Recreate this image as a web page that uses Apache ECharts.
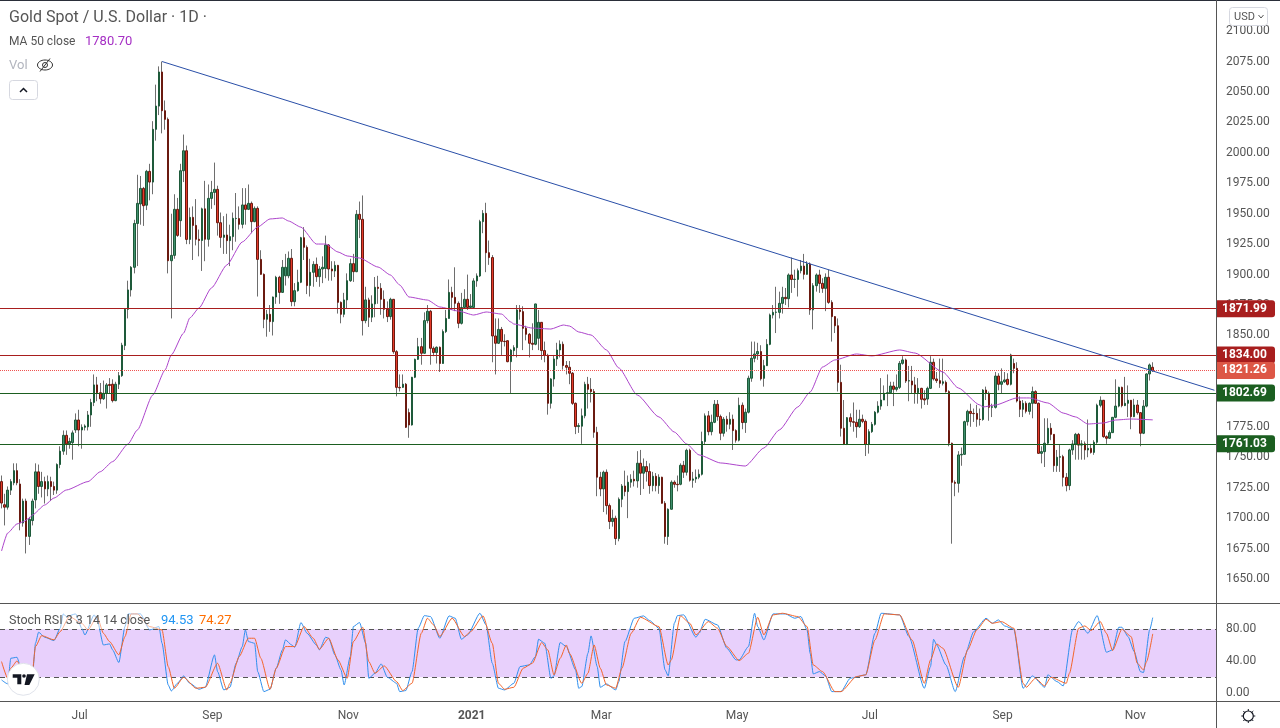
<!DOCTYPE html>
<html>
<head>
<meta charset="utf-8">
<title>Gold Spot / U.S. Dollar</title>
<script src="https://cdn.jsdelivr.net/npm/echarts@6/dist/echarts.min.js"></script>
<style>
  html, body { margin: 0; padding: 0; background: #fff; }
  #chart { width: 1280px; height: 728px; }
</style>
</head>
<body>
<div id="chart"></div>
<script>
// Daily candles, ten per line
const opens = [
  1730,1711,1709,1723,1729,1739,1728,1696,1714,1685,
  1698,1715,1738,1726,1730,1724,1730,1726,1723,1744,
  1755,1768,1761,1762,1772.4,1780.6,1772.4,1774.6,1775,1784.7,
  1795,1809.4,1803,1798,1802.5,1809.7,1810,1796.5,1810,1817,
  1841.7,1871.5,1887.4,1906,1942,1958,1970.8,1957,1984.8,1976,
  2019.3,2038.4,2066.4,2034.6,2027.5,1911.4,1915.8,1953.6,1944.3,1985.3,
  2001.7,1928.9,1947,1940.4,1929,1928,1954,1929,1962.6,1967.5,
  1970,1942.6,1930.6,1932.5,1927.9,1931.2,1946,1946,1941.3,1957.2,
  1953.6,1958.5,1943.5,1954.4,1912.5,1900.2,1863.3,1867.4,1861.4,1881.6,
  1897.8,1885.4,1899,1899,1913.4,1877.8,1886.8,1893.7,1930.3,1922.4,
  1891,1901.9,1908.4,1898.3,1904.6,1905,1924.3,1904.6,1903,1907.6,
  1877.2,1867.4,1879.2,1895,1909,1902.4,1949.5,1945.4,1862.2,1879.2,
  1865,1875.9,1889.6,1888.7,1879.7,1871.5,1865.5,1879.7,1836.7,1807.4,
  1807.4,1810,1786.7,1776.5,1815.7,1830.4,1840.8,1835.4,1862.2,1869.9,
  1839.5,1836,1840.3,1827,1853.2,1864,1885.4,1881.3,1876.4,1860,
  1873,1879.7,1873,1873,1894.8,1898.9,1943.5,1950.3,1918,1914,
  1849.6,1843.6,1855,1845.2,1845.7,1828.5,1837.6,1840,1871,1869.6,
  1855.9,1851,1843.6,1842.8,1847.7,1860.8,1837.6,1833.7,1794.3,1814.3,
  1830.7,1838.1,1842.8,1825.3,1823.9,1819,1794.3,1775.2,1775.5,1784,
  1809.9,1805.8,1803.9,1770.5,1733.6,1724,1737.7,1710.3,1697.2,1699.9,
  1683.2,1715.5,1726.4,1721.8,1729.5,1731.9,1730.6,1745.1,1736.9,1742.3,
  1738.2,1726.7,1734.4,1726.7,1733.6,1712.2,1684.9,1707.3,1729.5,1727.8,
  1727.8,1743.4,1737.7,1755.7,1731.1,1732.2,1733.6,1736,1762.9,1784,
  1771,1778.7,1793.5,1783.4,1769.7,1781.2,1777.1,1781.2,1771.9,1764,
  1792.7,1778.5,1787,1814.9,1831.3,1834.8,1836.8,1814.8,1825.2,1842.7,
  1866.8,1869,1869,1876.4,1881.3,1880.2,1899.7,1896,1896,1903.2,
  1907,1900.2,1908.7,1871,1890.9,1899.7,1892.8,1888.7,1897.8,1877.2,
  1865.5,1858,1811.5,1773.8,1760.6,1782.5,1779.2,1778.7,1775.1,1781.2,
  1779.5,1760.6,1771,1777,1787,1792,1797,1802.5,1803,1808.5,
  1805.8,1807.4,1827.1,1829.9,1812.6,1812.6,1809.4,1803,1806.6,1798,
  1797.8,1806.6,1828,1814.3,1812.9,1810.7,1811.5,1803.9,1761.5,1729.4,
  1728.6,1751.9,1752.4,1779.2,1787.7,1786,1786,1781.2,1781,1805.2,
  1802.5,1791,1791,1816.7,1809.9,1812,1814,1809.9,1827,1823,
  1796.2,1789.4,1794.3,1787.7,1794.3,1803.9,1794.3,1753.2,1754.6,1761.5,
  1773.8,1768.8,1743.1,1750,1750.5,1733.5,1726.7,1756,1760.9,1768.8,
  1760,1761,1756,1757.3,1754,1762.3,1792.7,1796.8,1766.9,1765.6,
  1770.2,1782.8,1792,1807.4,1792.4,1794.3,1796.8,1783.3,1792.9,1786.6,
  1769.7,1792,1818.4,1823.9
];
const closes = [
  1712.4,1709,1723,1730,1739,1729,1696,1714,1685,1699,
  1714,1738,1726,1730,1724,1730,1726,1723,1744,1755,
  1768,1761,1763,1770,1780.6,1772.4,1774.6,1775.7,1784.7,1795,
  1809.4,1803,1798,1802.5,1809.4,1809,1796.5,1810,1817,1842,
  1871.5,1887.4,1906,1942,1958.5,1970.8,1956.6,1984.8,1976,2019.3,
  2038.4,2066.4,2034.6,2027.5,1911.4,1915.8,1953.6,1932.2,1985.3,2001.7,
  1928.9,1947,1940.4,1929,1928,1954,1929,1962.6,1967.5,1970,
  1942.6,1930.6,1932.5,1927.9,1931.2,1946.2,1946.2,1941.3,1957.2,1953.6,
  1958.5,1943.5,1954.4,1912.5,1900.2,1863.3,1867.4,1861.4,1881.6,1897.8,
  1885.4,1906,1906,1913.4,1877.8,1886.8,1893.7,1930.3,1922.4,1891,
  1901.9,1908.4,1898.3,1904.6,1906,1924.3,1904.6,1903,1907.6,1877.2,
  1867.4,1879.2,1895,1909,1902.4,1949.5,1945.4,1862.2,1879.2,1865,
  1875.9,1889.6,1888.7,1879.7,1871.5,1865.5,1879.7,1836.7,1807.4,1807,
  1810,1774.6,1776.5,1815.7,1830.4,1840.8,1835.4,1862.2,1869.9,1839.5,
  1836,1840.3,1827,1853.2,1864,1885.4,1881.3,1876.4,1860,1873,
  1879.7,1873,1874.2,1894.8,1898.9,1943.5,1950.3,1918,1914,1849.6,
  1843.6,1855,1845.2,1845,1828.5,1838,1840,1871,1869.6,1855.9,
  1851,1843.6,1842.8,1875.9,1860.8,1837.6,1833.7,1794.3,1814.3,1830.7,
  1838.1,1842.8,1825.3,1823.9,1819,1794.3,1775.2,1776,1784,1809.9,
  1805.8,1803.9,1770.5,1733.6,1724,1737.7,1710.3,1697.2,1699.9,1683.2,
  1715.5,1726.4,1721.8,1729.5,1731.9,1730.6,1745.1,1736.9,1742.3,1738.2,
  1726.7,1734.4,1726.7,1733.6,1712.2,1684.9,1707.3,1729.5,1727.8,1727.5,
  1743.4,1737.7,1755.7,1731.1,1732.2,1733.6,1736,1762.9,1784,1771,
  1778.7,1793.5,1783.4,1769.7,1781.2,1777.1,1781.2,1771.9,1764,1792.7,
  1778.5,1787,1814.9,1831.3,1834.8,1836.8,1814.4,1825.2,1842.7,1866.8,
  1869,1869.2,1876.4,1881.3,1880.2,1899.7,1896,1896.2,1903.2,1907,
  1900.2,1908.7,1871,1890.9,1899.7,1892.8,1888.7,1897.8,1877.2,1865.5,
  1858,1811.5,1773.8,1760.6,1782.5,1779.2,1778.7,1775.1,1781.2,1779.5,
  1760.6,1771,1777,1787,1792,1797,1802.5,1803,1808.5,1805.8,
  1807.4,1827.1,1829.9,1812.6,1812.9,1809.4,1803,1806.6,1797.6,1797,
  1806.6,1828,1814.3,1812.9,1810.7,1812,1803.9,1761.5,1729.4,1728.6,
  1751.9,1752.4,1779.2,1787.7,1786,1785.8,1781.2,1781,1805.2,1802.5,
  1791,1791.5,1816.7,1809.9,1812,1813.5,1809.9,1834,1823,1796.2,
  1789.4,1794.3,1787.7,1794.3,1803.9,1794.3,1753.2,1754.6,1761.5,1773.8,
  1768.8,1743.1,1750,1750.5,1733.5,1726.7,1756,1760.9,1768.8,1760,
  1761,1756,1757.3,1754,1762.3,1792.7,1796.8,1766.9,1765.6,1770.2,
  1782.8,1792,1807.4,1792.4,1794.3,1796.8,1783.3,1792.9,1786.6,1769.7,
  1792,1818.4,1825.8,1821.3
];
const highs = [
  1735,1720,1726,1732,1745,1745,1732,1716,1716,1701,
  1716,1745,1744,1738,1734,1735,1734,1730,1745,1759,
  1772,1772,1766,1772,1786,1789,1777,1777,1788,1798,
  1818,1816,1811,1813,1811,1815,1814,1812,1820,1844,
  1872,1895,1907,1945,1982,1981,1972,1986,1991,2026,
  2056,2071,2075,2043,2029,1950,1966,1963,1991,2015,
  2006,1955,1956,1962,1937,1955,1977,1974,1977,1992,
  1973,1951,1948,1950,1941,1951,1967,1956,1971,1971,
  1974,1960,1956,1956,1920,1901,1871,1875,1882,1899,
  1899,1912,1917,1919,1921,1893,1904,1931,1939,1924,
  1913,1911,1914,1907,1915,1932,1925,1911,1911,1908,
  1878,1885,1901,1913,1917,1953,1960,1965,1890,1881,
  1883,1898,1899,1893,1887,1878,1881,1880,1838,1818,
  1818,1811,1790,1816,1831,1848,1848,1869,1875,1871,
  1841,1841,1841,1855,1871,1896,1890,1906,1878,1885,
  1888,1900,1884,1897,1901,1945,1953,1959,1928,1916,
  1864,1864,1857,1851,1846,1839,1842,1875,1875,1874,
  1858,1852,1860,1876,1871,1861,1845,1835,1815,1834,
  1844,1846,1845,1829,1829,1820,1795,1778,1790,1812,
  1816,1815,1806,1775,1738,1739,1740,1712,1707,1702,
  1717,1728,1739,1735,1736,1739,1755,1756,1749,1747,
  1745,1738,1737,1736,1734,1714,1708,1731,1731,1735,
  1745,1747,1757,1757,1738,1740,1740,1771,1786,1788,
  1785,1797,1797,1785,1783,1784,1787,1785,1773,1799,
  1795,1790,1817,1845,1845,1844,1842,1830,1847,1868,
  1875,1890,1886,1890,1889,1901,1914,1904,1905,1912,
  1917,1911,1910,1893,1901,1904,1897,1901,1904,1879,
  1866,1864,1826,1797,1783,1786,1795,1789,1789,1785,
  1781,1773,1779,1788,1796,1815,1809,1818,1812,1812,
  1818,1829,1833,1831,1825,1825,1816,1815,1807,1805,
  1808,1833,1831,1820,1831,1831,1813,1805,1762,1731,
  1755,1758,1780,1789,1794,1790,1793,1790,1806,1808,
  1804,1794,1820,1819,1823,1820,1819,1835,1831,1828,
  1800,1797,1796,1795,1808,1805,1795,1759,1782,1782,
  1778,1769,1756,1760,1752,1737,1757,1764,1770,1770,
  1764,1763,1781,1761,1764,1794,1800,1797,1768,1772,
  1783,1814,1808,1808,1816,1809,1797,1798,1797,1787,
  1797,1819,1827,1828
];
const lows = [
  1708,1694,1707,1719,1727,1727,1690,1693,1671,1678,
  1694,1708,1720,1717,1712,1718,1714,1719,1720,1741,
  1752,1752,1757,1748,1770,1759,1757,1772,1772,1775,
  1792,1796,1794,1797,1790,1802,1795,1796,1806,1816,
  1838,1864,1882,1901,1907,1941,1940,1953,1961,1966,
  2010,2031,2016,2019,1901,1864,1913,1931,1931,1976,
  1925,1925,1912,1924,1915,1903,1911,1923,1954,1957,
  1932,1922,1917,1917,1907,1920,1927,1937,1938,1941,
  1953,1934,1943,1882,1900,1856,1849,1853,1850,1876,
  1876,1885,1891,1897,1874,1874,1886,1893,1912,1884,
  1882,1890,1894,1890,1893,1897,1895,1895,1898,1868,
  1860,1865,1872,1894,1894,1902,1930,1850,1860,1857,
  1861,1865,1876,1867,1864,1861,1863,1835,1800,1804,
  1807,1774,1766,1776,1815,1830,1826,1835,1860,1826,
  1833,1827,1820,1827,1852,1864,1871,1870,1856,1859,
  1873,1871,1872,1872,1890,1898,1934,1902,1908,1828,
  1818,1843,1834,1841,1828,1802,1833,1832,1863,1838,
  1846,1832,1838,1842,1838,1830,1828,1785,1790,1808,
  1825,1832,1822,1818,1810,1793,1769,1770,1761,1782,
  1790,1795,1766,1718,1718,1705,1703,1691,1693,1678,
  1681,1709,1718,1700,1725,1726,1725,1719,1724,1730,
  1720,1722,1722,1720,1712,1679,1678,1707,1725,1722,
  1727,1733,1735,1730,1725,1729,1732,1735,1760,1768,
  1768,1778,1780,1764,1767,1771,1773,1756,1762,1763,
  1773,1770,1786,1812,1828,1830,1813,1808,1825,1842,
  1864,1852,1864,1868,1875,1873,1885,1889,1882,1901,
  1896,1900,1867,1855,1886,1885,1885,1870,1876,1845,
  1852,1804,1767,1760,1760,1775,1771,1766,1774,1778,
  1751,1753,1770,1776,1786,1789,1797,1792,1803,1792,
  1804,1806,1826,1811,1796,1802,1794,1794,1790,1793,
  1793,1806,1813,1811,1807,1809,1803,1759,1679,1718,
  1721,1743,1752,1776,1775,1779,1775,1776,1780,1797,
  1780,1783,1790,1805,1802,1811,1809,1809,1819,1795,
  1783,1783,1786,1785,1782,1794,1753,1745,1742,1760,
  1764,1738,1738,1738,1726,1722,1723,1752,1748,1748,
  1748,1748,1750,1753,1752,1761,1791,1766,1761,1765,
  1770,1782,1791,1791,1792,1783,1773,1783,1785,1759,
  1769,1791,1813,1820
];

// MA 50 readings: bar number and price
const maBars = [0,2,5,7,9,10,14,17,21,28,32,36,41,44,49,53,55,59,61,64,68,73,78,83,87,91,93,97,102,105,109,112,116,122,126,129,132,138,142,148,153,157,162,165,166,172,178,182,184,187,191,196,200,206,213,218,222,226,233,241,247,252,258,262,266,270,277,282,291,296,305,310,317,318,322,329,333,339,344,348,352,357,361,366,373];
const maValues = [1673,1687.8,1695.2,1697,1700,1702.6,1710.8,1716.5,1723.1,1730,1738.1,1746.4,1760.9,1772.4,1801.1,1821.7,1834,1852,1864.4,1872.6,1889,1907.9,1926.8,1939.1,1945.7,1946.5,1944,1939,1925.1,1925.1,1918.6,1915.3,1913.6,1906.2,1899.7,1891.5,1881.6,1879.1,1873.4,1870.1,1866.8,1869.3,1867.6,1861.1,1859.4,1856.1,1855.3,1858.6,1857.8,1852.9,1850.4,1838.1,1823.3,1801.1,1783.1,1770.7,1760.9,1751.9,1745.3,1742.8,1757.6,1772.4,1791.3,1803.6,1824.1,1829.9,1834.8,1833.2,1838.1,1835.6,1820,1806.9,1792.9,1791.3,1792.9,1798.7,1798.7,1794.6,1786.3,1783.1,1777.3,1778.1,1780.6,1781.4,1780.7];

// Stoch RSI readings
const kBars = [0,2,3,5,6,10,11,12,14,17,19,20,21,24,26,27,30,31,33,35,36,38,40,41,45,48,51,52,54,55,57,59,61,64,66,69,70,72,74,76,78,79,80,82,83,85,87,89,91,92,94,95,97,99,102,103,105,106,108,110,111,113,114,116,118,119,121,123,125,128,129,131,133,135,137,139,142,145,147,149,151,155,157,159,161,163,166,168,171,173,174,176,178,179,181,183,186,187,188,190,191,193,194,196,199,200,202,205,208,210,213,215,216,218,219,221,225,226,228,232,235,238,239,242,244,245,247,250,254,257,259,261,262,263,265,267,269,272,275,280,283,285,291,294,299,301,302,303,306,309,312,315,319,321,323,325,328,331,334,338,339,342,344,347,349,352,355,358,360,362,363,365,367,369,370,372,373];
const kValues = [16.7,11.7,43.8,45,35.4,20.9,62.5,76.3,70,65.9,81.3,99.2,95.9,99.2,81.3,72.9,98,91.7,60.4,61.7,54.2,38.4,83.4,99.2,99.2,79.2,83.4,62.5,10.4,2.9,12.5,21.7,12.5,5,7.5,48,27.1,4.2,7.5,37.5,58.4,79.2,64.6,62.5,27.1,2.1,5,31.3,54.2,66.7,60.4,57.5,88.4,75,60.4,54.2,70,68.8,48,29.2,10.4,45.9,83.4,88.4,62.5,18.8,25,36.7,20,12.5,2.1,3.4,27.1,81.3,97.1,95.9,68.8,96.7,93.8,67.5,72.9,100,85.4,37.5,6.3,4.2,12.5,33.4,35.4,45.9,67.5,62.5,18.8,21.7,63.4,58.4,29.2,6.3,8.4,50,71.7,33.4,7.5,11.7,4.2,14.6,64.6,93.8,96.7,90.9,81.3,29.2,21.7,87.5,97.1,98,70,75,92.5,85.4,56.3,41.7,41.7,58.4,100,83.4,66.7,99.2,99.2,93.8,95.9,79.2,50,24.2,27.1,21.7,2.1,2.1,18.8,23,75,100,98,70.9,6.3,33.4,67.5,60.4,35.4,2.1,45.9,77.1,93.8,87.5,91.7,84.2,80,6.3,21.7,7.5,23,14.6,9.2,79.2,89.6,75,97.1,51.3,54.2,82.5,82.5,70.9,52.1,27.1,25.9,79.2,94.53];
const dBars = [0,2,3,5,6,10,11,13,17,19,22,26,28,31,33,35,38,40,42,44,48,52,54,56,59,63,66,70,73,74,77,80,82,84,87,89,92,95,98,101,103,106,109,112,114,117,119,121,124,128,130,133,136,138,140,142,146,150,152,156,159,161,163,166,169,172,175,177,179,181,183,184,188,190,192,194,196,199,201,204,207,213,216,217,220,223,225,229,232,235,239,242,245,247,250,253,258,261,263,266,270,272,277,280,283,286,291,295,299,301,303,305,310,313,316,319,321,324,328,331,332,335,338,340,345,346,349,351,353,356,358,360,363,366,368,370,371,373];
const dValues = [39.6,18.8,31.3,40.4,35.4,27.1,58.4,72.1,66.7,77.1,95.9,87.5,79.2,95.9,75,64.6,48,70.9,99.2,99.2,83.4,79.2,33.4,6.3,20,6.3,7.5,37.5,4.2,12.5,45.9,68.8,68.8,43.8,5,31.3,58.4,58.4,83.4,68.8,55,68.8,41.7,18.8,64.6,82.5,39.6,25,34.2,14.6,3.4,12.5,75,93.8,85.4,70.9,93.8,70.9,77.1,96.7,62.5,12.5,5,7.5,31.3,37.5,63.4,54.2,23,43.8,60.4,50,12.5,25,60.4,31.3,10.4,6.3,31.3,75,95,83.4,35.4,41.7,96.7,87.5,73,89.6,81.3,58.4,40.9,50,95,73,98,100,95.9,83.4,35.4,27.1,2.1,2.1,20.9,23,66.7,99.2,98,66.7,12.5,41.7,61.7,56.3,7.5,54.2,79.2,92.5,87.5,89.6,81.3,12.5,7.5,18.8,9.2,20,12.5,25,81.3,84.2,78.4,89.6,75,53.4,80,70.9,37.5,29.2,39.6,74.27];

const priceTicks = [1650,1675,1700,1725,1750,1775,1850,1875,1900,1925,1950,1975,2000,2025,2050,2075,2100];
const stochTicks = [0,40,80];
const monthBars = [25,68,112,152,194,238,281,324,367];
const monthNames = ['Jul','Sep','Nov','2021','Mar','May','Jul','Sep','Nov'];
const BAR_SLOTS = 394; // includes the empty room right of the last candle

const categories = [];
for (let i = 0; i < BAR_SLOTS; i++) {
    categories.push(String(i));
}

// price levels drawn across the chart
const redLevels = [1871.99, 1834.00];
const greenLevels = [1802.69, 1761.03];
const lastPrice = 1821.26;
const trendStart = [52, 2075];
const trendEnd = [393, 1805];

const FONT = 'Roboto, "Liberation Sans", sans-serif';

// grey wick candles underneath, bodies on top without their own wicks
let wickData = opens.map((o, i) => [o, closes[i], lows[i], highs[i]]);
let bodyData = opens.map((o, i) => {
    let c = closes[i];
    return [o, c, Math.min(o, c), Math.max(o, c)];
});

function levelLine(value, color, lineType) {
    return {
        yAxis: value,
        lineStyle: { color: color, width: 1, type: lineType || 'solid' },
        label: {
            show: true,
            position: 'end',
            distance: 0,
            formatter: value.toFixed(2),
            color: '#fff',
            fontFamily: FONT,
            fontSize: 12,
            fontWeight: 'bold',
            backgroundColor: lineType ? '#dd5746' : color,
            padding: [4, 6, 1, 6],
            width: 47,
            borderRadius: [0, 3, 3, 0]
        }
    };
}

function textEl(text, x, y, fill, size, weight) {
    return {
        type: 'text',
        z: 50,
        style: {
            text: text, x: x, y: y, fill: fill,
            font: (weight || 'normal') + ' ' + (size || 12) + 'px ' + FONT,
            textVerticalAlign: 'middle'
        }
    };
}

function rule(x1, y1, x2, y2, color, width) {
    return {
        type: 'line', z: 40,
        shape: { x1: x1, y1: y1, x2: x2, y2: y2 },
        style: { stroke: color, lineWidth: width || 1 }
    };
}

let option = {
    animation: false,
    backgroundColor: '#ffffff',
    grid: [
        { left: -1, top: 1, width: 1217, height: 602 },
        { left: -1, top: 604, width: 1217, height: 98 }
    ],
    xAxis: [
        {
            type: 'category', gridIndex: 0, data: categories, boundaryGap: true,
            axisLine: { show: false }, axisTick: { show: false }, axisLabel: { show: false }
        },
        {
            type: 'category', gridIndex: 1, data: categories, boundaryGap: true,
            axisLine: { show: false }, axisTick: { show: false },
            axisLabel: {
                margin: 8,
                color: '#555',
                fontFamily: FONT,
                fontSize: 12,
                padding: [0, 0, 0, 2],
                interval: (index) => monthBars.indexOf(index) >= 0,
                formatter: (value, index) => {
                    let name = monthNames[monthBars.indexOf(index)] || '';
                    return name === '2021' ? '{b|' + name + '}' : name;
                },
                rich: { b: { fontWeight: 'bold', color: '#555', fontFamily: FONT, fontSize: 12 } }
            }
        }
    ],
    yAxis: [
        {
            type: 'value', gridIndex: 0, position: 'right', min: 1630.3, max: 2124.7, scale: true,
            splitLine: { show: false }, axisLine: { show: false }, axisTick: { show: false },
            axisLabel: {
                customValues: priceTicks,
                margin: 10,
                padding: [2, 0, 0, 0],
                color: '#555',
                fontFamily: FONT,
                fontSize: 12,
                formatter: (v) => v.toFixed(2)
            }
        },
        {
            type: 'value', gridIndex: 1, position: 'right', min: -10.9, max: 111.6, scale: true,
            splitLine: { show: false }, axisLine: { show: false }, axisTick: { show: false },
            axisLabel: {
                customValues: stochTicks,
                margin: 10,
                padding: [2, 0, 0, 0],
                color: '#555',
                fontFamily: FONT,
                fontSize: 12,
                formatter: (v) => v.toFixed(2)
            }
        }
    ],
    series: [
        {
            name: 'wicks',
            type: 'candlestick',
            xAxisIndex: 0, yAxisIndex: 0,
            barWidth: 1,
            z: 3,
            itemStyle: { color: '#6e6e6e', color0: '#6e6e6e', borderColor: '#6e6e6e', borderColor0: '#6e6e6e', borderColorDoji: '#6e6e6e', borderWidth: 1 },
            data: wickData
        },
        {
            name: 'Gold Spot / U.S. Dollar',
            type: 'candlestick',
            xAxisIndex: 0, yAxisIndex: 0,
            barWidth: 2,
            z: 4,
            itemStyle: { color: '#3f8f6d', color0: '#e63a2a', borderColor: '#1e5a3a', borderColor0: '#6a1a10', borderColorDoji: '#6a1a10', borderWidth: 1 },
            data: bodyData,
            markLine: {
                silent: true,
                symbol: 'none',
                animation: false,
                z: 6,
                data: [
                    levelLine(redLevels[0], '#a81e1e'),
                    levelLine(redLevels[1], '#a81e1e'),
                    levelLine(lastPrice, '#ef5350', 'dotted'),
                    levelLine(greenLevels[0], '#1b5e20'),
                    levelLine(greenLevels[1], '#1b5e20'),
                    [
                        { coord: trendStart, lineStyle: { color: '#2a4fa8', width: 1, type: 'solid' }, label: { show: false } },
                        { coord: trendEnd }
                    ]
                ]
            }
        },
        {
            name: 'MA 50 close',
            type: 'line',
            xAxisIndex: 0, yAxisIndex: 0,
            showSymbol: false,
            smooth: 0.2,
            smoothMonotone: 'x',
            z: 5,
            lineStyle: { color: '#ad45cc', width: 1 },
            data: maBars.map((b, i) => [b, maValues[i]])
        },
        {
            name: 'Stoch K',
            type: 'line',
            xAxisIndex: 1, yAxisIndex: 1,
            showSymbol: false,
            smooth: 0.2,
            smoothMonotone: 'x',
            z: 5,
            lineStyle: { color: '#2f8fee', width: 1 },
            data: kBars.map((b, i) => [b, kValues[i]]),
            markArea: {
                silent: true,
                itemStyle: { color: '#e8d0fc' },
                data: [[{ yAxis: 80 }, { yAxis: 20 }]]
            },
            markLine: {
                silent: true,
                symbol: 'none',
                animation: false,
                label: { show: false },
                lineStyle: { color: '#555', width: 1, type: [5, 4] },
                data: [{ yAxis: 80 }, { yAxis: 20 }]
            }
        },
        {
            name: 'Stoch D',
            type: 'line',
            xAxisIndex: 1, yAxisIndex: 1,
            showSymbol: false,
            smooth: 0.2,
            smoothMonotone: 'x',
            z: 6,
            lineStyle: { color: '#f4652a', width: 1 },
            data: dBars.map((b, i) => [b, dValues[i]])
        }
    ],
    graphic: [
        // pane borders
        rule(0, 0.5, 1280, 0.5, '#2a2e39'),
        rule(1216.5, 0, 1216.5, 728, '#555'),
        rule(0, 603.5, 1280, 603.5, '#555'),
        rule(0, 701.5, 1280, 701.5, '#555'),

        // legends
        textEl('Gold Spot / U.S. Dollar · 1D ·', 9, 18, '#555', 16),
        textEl('MA 50 close', 9, 42, '#555', 12),
        textEl('1780.70', 85, 42, '#a52fc4', 13),
        textEl('Vol', 9, 66, '#b2b5be', 13),

        // eye with a slash
        { type: 'ellipse', z: 50, shape: { cx: 45, cy: 65, rx: 7.5, ry: 5 }, style: { fill: 'none', stroke: '#333', lineWidth: 1 } },
        { type: 'circle', z: 50, shape: { cx: 45, cy: 65, r: 2.5 }, style: { fill: 'none', stroke: '#333', lineWidth: 1 } },
        rule(40, 71.5, 50, 58.5, '#333'),

        {
            type: 'rect', z: 50,
            shape: { x: 9.5, y: 80.5, width: 28, height: 19, r: 3 },
            style: { fill: '#fff', stroke: '#d6d8e0', lineWidth: 1 }
        },
        {
            type: 'polyline', z: 51,
            shape: { points: [[20, 92], [23.5, 88.5], [27, 92]] },
            style: { fill: 'none', stroke: '#131722', lineWidth: 1.5 }
        },

        // stoch legend on a faded strip
        { type: 'rect', z: 49, shape: { x: 6, y: 612, width: 228, height: 17 }, style: { fill: 'rgba(255,255,255,0.5)' } },
        textEl('Stoch RSI 3 3 14 14 close', 9, 621, '#555', 12.5),
        textEl('94.53', 161, 621, '#2196f3', 13),
        textEl('74.27', 199, 621, '#ff6d00', 13),

        // logo badge
        { type: 'circle', z: 50, shape: { cx: 23.3, cy: 679.3, r: 16 }, style: { fill: '#fff', stroke: '#e0e3eb', lineWidth: 1 } },
        {
            type: 'polygon', z: 51,
            shape: { points: [[12.7, 674.3], [21.3, 674.3], [21.3, 684.3], [17.3, 684.3], [17.3, 677.7], [12.7, 677.7]] },
            style: { fill: '#131722' }
        },
        {
            type: 'polygon', z: 51,
            shape: { points: [[27, 674.3], [34.7, 674.3], [29.3, 685], [24.5, 685]] },
            style: { fill: '#131722' }
        },
        { type: 'circle', z: 51, shape: { cx: 24, cy: 676, r: 1.8 }, style: { fill: '#131722' } },

        // currency button
        {
            type: 'rect', z: 50,
            shape: { x: 1229.5, y: 7.5, width: 38, height: 18, r: 3 },
            style: { fill: '#fff', stroke: '#d6d8e0', lineWidth: 1 }
        },
        textEl('USD', 1234, 17, '#555', 11),
        {
            type: 'polyline', z: 51,
            shape: { points: [[1258.5, 15], [1261, 18], [1263.5, 15]] },
            style: { fill: 'none', stroke: '#555', lineWidth: 1 }
        },

        // settings icon
        { type: 'circle', z: 50, shape: { cx: 1248.3, cy: 716, r: 5 }, style: { fill: 'none', stroke: '#131722', lineWidth: 1.2 } },
        rule(1248.3, 709, 1248.3, 711, '#131722'),
        rule(1248.3, 721, 1248.3, 723, '#131722'),
        rule(1241.3, 716, 1243.3, 716, '#131722'),
        rule(1253.3, 716, 1255.3, 716, '#131722'),
        rule(1243.3, 711, 1244.7, 712.4, '#131722'),
        rule(1251.9, 719.6, 1253.3, 721, '#131722'),
        rule(1243.3, 721, 1244.7, 719.6, '#131722'),
        rule(1251.9, 712.4, 1253.3, 711, '#131722')
    ]
};

let chart = echarts.init(document.getElementById('chart'), null, { renderer: 'canvas' });
chart.setOption(option);
</script>
</body>
</html>
